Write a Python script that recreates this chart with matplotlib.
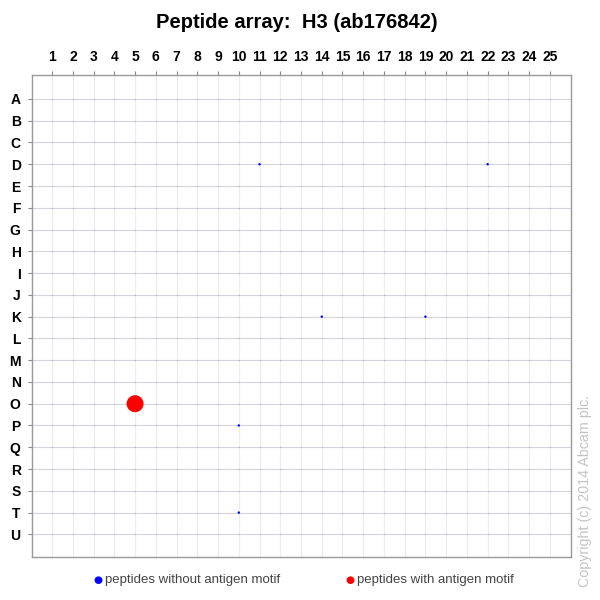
import numpy as np
import matplotlib
matplotlib.use("Agg")
import matplotlib.pyplot as plt

plt.rcParams['font.family'] = ['Liberation Sans', 'DejaVu Sans']

# array layout
row_labels = list("ABCDEFGHIJKLMNOPQRSTU")
col_labels = [str(c) for c in range(1, 26)]

# spots with a visible signal: row, column, relative intensity, has motif
spot_rows = ["D", "D", "K", "K", "O", "P", "T"]
spot_cols = [11, 22, 14, 19, 5, 10, 10]
spot_values = [0.02, 0.01, 0.02, 0.01, 1.0, 0.01, 0.02]
spot_motif = [False, False, False, False, True, False, False]

fig = plt.figure(figsize=(6, 6), dpi=100)
ax = fig.add_axes([0.053, 0.071, 0.898, 0.804])

# every peptide spot as a faint dot at its grid position
cc, rr = np.meshgrid(np.arange(1, 26), np.arange(len(row_labels)))
ax.scatter(cc.ravel(), rr.ravel(), s=0.4, color="#a0a0d8", linewidths=0, zorder=2)

ys = [row_labels.index(r) for r in spot_rows]
sizes = [max(150 * v, 3) for v in spot_values]
colors = ["#ff0000" if m else "#0000ff" for m in spot_motif]
ax.scatter(spot_cols, ys, s=sizes, c=colors, linewidths=0, zorder=3)

ax.set_xlim(0.02, 26)
ax.set_ylim(21.06, -1.1)
ax.set_xticks(range(1, 26))
ax.set_xticklabels(col_labels)
ax.set_yticks(range(len(row_labels)))
ax.set_yticklabels(row_labels)
ax.xaxis.tick_top()
ax.tick_params(axis="both", length=3, color="#888888", labelsize=10, pad=5)
for lab in ax.get_xticklabels() + ax.get_yticklabels():
    lab.set_fontweight("bold")

for x in range(1, 26):
    ax.axvline(x, color="#ececec", lw=0.8, zorder=1)
for y in range(len(row_labels)):
    ax.axhline(y, color="#d4d4dc", lw=0.8, zorder=1)

for sp in ax.spines.values():
    sp.set_color("#999999")
    sp.set_linewidth(1.0)

fig.text(0.494, 0.963, "Peptide array:  H3 (ab176842)", ha="center", va="center",
         fontsize=14.5, fontweight="bold")

# legend
fig.text(0.163, 0.033, "\u25cf", color="#0000ff", fontsize=7.5, ha="center", va="center",
         family="DejaVu Sans")
fig.text(0.175, 0.033, "peptides without antigen motif", color="#444444",
         fontsize=9.5, ha="left", va="center")
fig.text(0.584, 0.033, "\u25cf", color="#ff0000", fontsize=7.5, ha="center", va="center",
         family="DejaVu Sans")
fig.text(0.595, 0.033, "peptides with antigen motif", color="#444444",
         fontsize=9.5, ha="left", va="center")

fig.text(0.975, 0.182, "Copyright (c) 2014 Abcam plc.", rotation=90, color="#c4c4c4",
         fontsize=10.3, ha="center", va="center")

fig.savefig("out.png", dpi=100, facecolor="white")
